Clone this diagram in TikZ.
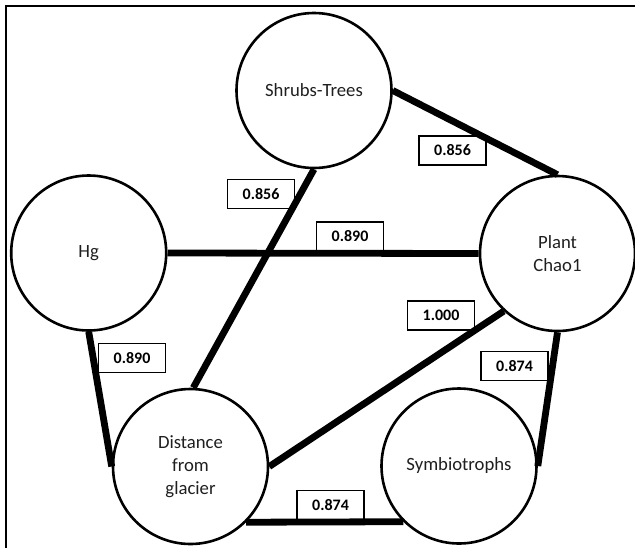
\documentclass[tikz,border=0pt]{standalone}
\usepackage{fontspec}
\setmainfont{Carlito}
\begin{document}
\begin{tikzpicture}[x=1pt,y=-1pt,
  var/.style={circle,draw,line width=2.6pt,minimum size=155pt,inner sep=0pt,align=center,
    font=\fontsize{18.7}{22.7}\selectfont,text=black!88},
  val/.style={draw,line width=1.3pt,minimum width=67pt,minimum height=29pt,inner sep=0pt,
    font=\fontsize{16}{19}\selectfont\bfseries,fill=white},
  link/.style={line width=6.8pt}]
\useasboundingbox (0,0) rectangle (635,547);
\draw[line width=2.5pt] (6,548) -- (6,6) -- (636,6);

\node[var] (shrubs) at (314,90.5) {Shrubs-Trees};
\node[var] (hg) at (88.7,253) {Hg};
\node[var] (plant) at (557.5,253.5) {Plant\\Chao1};
\node[var] (dist) at (190.5,466.5) {Distance\\from\\glacier};
\node[var] (symb) at (459,466) {Symbiotrophs};

\node[val] (l1) at (452.5,150.5) {0.856};
\node[val] (l2) at (261,194) {0.856};
\node[val] (l3) at (350,236.5) {0.890};
\node[val] (l4) at (441,315.6) {1.000};
\node[val] (l5) at (132,358) {0.890};
\node[val] (l6) at (514.5,366) {0.874};
\node[val] (l7) at (330.5,505) {0.874};

\draw[link] (shrubs.east) -- (plant.north);
\draw[link] (shrubs.south) -- (dist.88);
\draw[link] (hg.east) -- (plant.west);
\draw[link] (plant.227.7) -- (dist.east);
\draw[link] (plant.south) -- (symb.east);
\draw[link] (hg.south) -- (dist.west);
\draw[link] (dist.-45) -- (symb.-135);
\end{tikzpicture}
\end{document}
